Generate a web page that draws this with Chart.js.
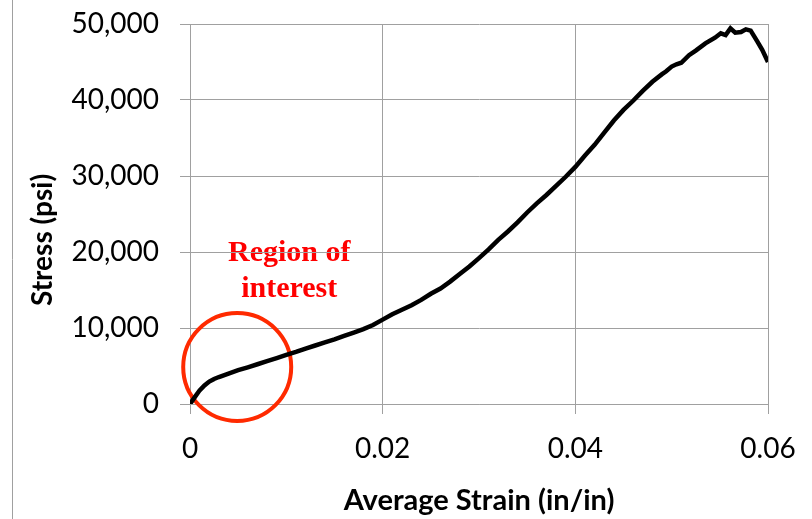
<!DOCTYPE html>
<html>
<head>
<meta charset="utf-8">
<script src="https://cdn.jsdelivr.net/npm/chart.js@4.4.0/dist/chart.umd.min.js"></script>
<style>
  body { margin: 0; background: #fff; }
  #wrap { width: 812px; height: 519px; }
</style>
</head>
<body>
<div id="wrap"><canvas id="myChart" width="812" height="519"></canvas></div>
<script>
// Strain (in/in) and stress (psi)
const strain = [0, 0.0005, 0.001, 0.0015, 0.002, 0.0025, 0.003, 0.004, 0.005, 0.006,
  0.007, 0.008, 0.009, 0.010, 0.011, 0.012, 0.013, 0.014, 0.015, 0.016,
  0.017, 0.018, 0.019, 0.020, 0.021, 0.022, 0.023, 0.024, 0.025, 0.026,
  0.027, 0.028, 0.029, 0.030, 0.031, 0.032, 0.033, 0.034, 0.035, 0.036,
  0.037, 0.038, 0.039, 0.040, 0.041, 0.042, 0.043, 0.044, 0.045, 0.046,
  0.047, 0.048, 0.049, 0.0494, 0.050, 0.0505, 0.051, 0.0518, 0.0525, 0.0535,
  0.0545, 0.0551, 0.0556, 0.0561, 0.0566, 0.0572, 0.0577, 0.0582, 0.0586, 0.0589,
  0.0594, 0.0599, 0.060];
const stress = [0, 900, 1800, 2450, 2950, 3300, 3550, 4000, 4450, 4830,
  5230, 5630, 6030, 6450, 6850, 7300, 7700, 8100, 8500, 8950,
  9400, 9850, 10400, 11100, 11800, 12400, 13000, 13700, 14500, 15200,
  16100, 17100, 18100, 19200, 20350, 21600, 22700, 23900, 25200, 26400,
  27500, 28700, 29900, 31200, 32700, 34100, 35700, 37300, 38700, 39900,
  41200, 42400, 43400, 43750, 44400, 44700, 44900, 45900, 46500, 47450,
  48200, 48780, 48550, 49430, 48860, 48950, 49300, 49120, 48300, 47670,
  46600, 45260, 45000];

const xTicks = [0, 0.02, 0.04, 0.06];
const yTicks = [0, 10000, 20000, 30000, 40000, 50000];

const xTitle = 'Average Strain (in/in)';
const yTitle = 'Stress (psi)';
const noteLines = ['Region of', 'interest'];
const notePos = { x: 0.0103, y: 20000 };   // centre of the first note line
const circlePos = { x: 0.0049, y: 4870 };

const points = strain.map((s, i) => ({ x: s, y: stress[i] }));
const gridColor = '#a0a0a0';

// Note text, y title and left frame line (under the grid)
const underGrid = {
  id: 'underGrid',
  beforeDraw(chart) {
    const c = chart.ctx;
    const xs = chart.scales.x, ys = chart.scales.y;
    c.save();
    c.strokeStyle = gridColor;
    c.lineWidth = 1;
    c.beginPath();
    c.moveTo(12.5, 0);
    c.lineTo(12.5, chart.height);
    c.stroke();

    c.fillStyle = '#ff0000';
    c.font = 'bold 30px "Liberation Serif"';
    c.textAlign = 'center';
    c.textBaseline = 'alphabetic';
    const nx = xs.getPixelForValue(notePos.x);
    const ny = ys.getPixelForValue(notePos.y);
    noteLines.forEach((t, i) => c.fillText(t, nx, ny + 9 + i * 36));

    // y axis title
    c.fillStyle = '#000';
    c.font = 'bold 28px Lato';
    c.translate(43, 240);
    c.rotate(-Math.PI / 2);
    c.textBaseline = 'middle';
    c.fillText(yTitle, 0, 0);
    c.restore();
  },
  beforeDatasetsDraw(chart) {
    const c = chart.ctx;
    const cx = chart.scales.x.getPixelForValue(circlePos.x);
    const cy = chart.scales.y.getPixelForValue(circlePos.y);
    c.save();
    c.strokeStyle = '#ff2a00';
    c.lineWidth = 4;
    c.beginPath();
    c.arc(cx, cy, 54, 0, Math.PI * 2);
    c.stroke();
    c.restore();
  }
};

const ctx = document.getElementById('myChart').getContext('2d');
const myChart = new Chart(ctx, {
  type: 'scatter',
  data: {
    datasets: [{
      data: points,
      showLine: true,
      borderColor: '#000',
      borderWidth: 4.5,
      pointRadius: 0,
      tension: 0
    }]
  },
  options: {
    responsive: false,
    animation: false,
    layout: { padding: { top: 24, right: 44, left: 0, bottom: 0 } },
    plugins: { legend: { display: false }, tooltip: { enabled: false } },
    scales: {
      x: {
        type: 'linear',
        min: 0, max: 0.06,
        afterBuildTicks: s => { s.ticks = xTicks.map(v => ({ value: v })); },
        afterFit: s => { s.height = 115; s.paddingLeft = 0; s.paddingRight = 0; },
        grid: { color: gridColor, tickLength: 10 },
        border: { color: gridColor },
        ticks: {
          padding: 18,
          color: '#000',
          font: { family: 'Lato', size: 28 },
          maxRotation: 0,
          callback: v => String(+v.toFixed(2))
        },
        title: {
          display: true,
          text: xTitle,
          color: '#000',
          font: { family: 'Lato', size: 29, weight: 'bold' },
          padding: { top: 0, bottom: 1 }
        }
      },
      y: {
        min: 0, max: 50000,
        afterBuildTicks: s => { s.ticks = yTicks.map(v => ({ value: v })); },
        afterFit: s => { s.width = 190; s.paddingTop = 0; s.paddingBottom = 0; },
        grid: { color: gridColor, tickLength: 10 },
        border: { color: gridColor },
        ticks: {
          padding: 21,
          color: '#000',
          font: { family: 'Lato', size: 28 },
          callback: v => v.toLocaleString('en-US')
        }
      }
    }
  },
  plugins: [underGrid]
});
</script>
</body>
</html>
